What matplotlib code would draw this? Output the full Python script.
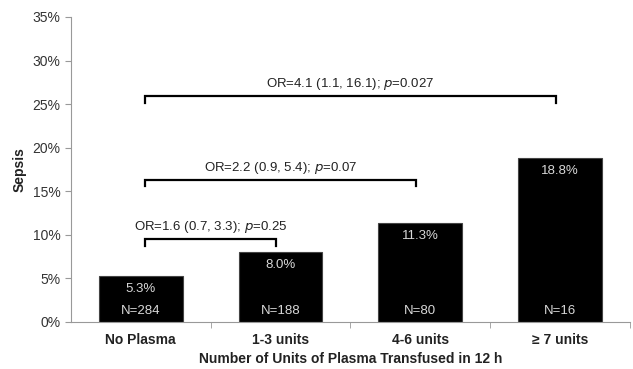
import numpy as np
import matplotlib.pyplot as plt
from matplotlib.ticker import FuncFormatter, FixedLocator

plt.rcParams['font.family'] = ['Liberation Sans', 'DejaVu Sans']

categories = ["No Plasma", "1-3 units", "4-6 units", "\u2265 7 units"]
sepsis_pct = [5.3, 8.0, 11.3, 18.8]
n_labels = ["N=284", "N=188", "N=80", "N=16"]

# comparisons: (from bar, to bar, bracket height %, label)
comparisons = [
    (0, 1, 9.5, "OR=1.6 (0.7, 3.3); $p$=0.25"),
    (0, 2, 16.3, "OR=2.2 (0.9, 5.4); $p$=0.07"),
    (0, 3, 25.9, "OR=4.1 (1.1, 16.1); $p$=0.027"),
]

fig = plt.figure(figsize=(6.33, 3.69), dpi=100)
ax = fig.add_axes([0.112, 0.128, 0.883, 0.826])

x = np.arange(len(categories))
ax.bar(x, sepsis_pct, width=0.6, color='black', edgecolor='#444444', linewidth=0.8)

for xi, v, n in zip(x, sepsis_pct, n_labels):
    ax.text(xi, v - 1.5, f"{v:.1f}%", ha='center', va='center', color='#d8d8d8', fontsize=9.5)
    ax.text(xi, 1.25, n, ha='center', va='center', color='#d8d8d8', fontsize=9.5)

for a, b, h, lab in comparisons:
    xa, xb = a + 0.03, b - 0.03
    ax.plot([xa, xa, xb, xb], [h - 0.75, h, h, h - 0.75], color='black', lw=1.6,
            solid_joinstyle='miter')
    ax.text((xa + xb) / 2, h + 0.45, lab, ha='center', va='bottom', fontsize=9.5, color='#222222')

ax.set_ylim(0, 35)
ax.set_xlim(-0.5, 3.5)
ax.set_yticks(np.arange(0, 36, 5))
ax.yaxis.set_major_formatter(FuncFormatter(lambda v, p: f"{v:.0f}%"))
ax.set_xticks(x)
ax.set_xticklabels(categories, fontweight='bold', fontsize=10, color='#222222')
ax.xaxis.set_minor_locator(FixedLocator([0.5, 1.5, 2.5, 3.5]))
ax.tick_params(axis='x', which='major', length=0, pad=8)
ax.tick_params(axis='x', which='minor', length=4, color='#999999', direction='out')
ax.tick_params(axis='y', length=4, color='#999999', labelsize=10, labelcolor='#333333')

for s in ['top', 'right']:
    ax.spines[s].set_visible(False)
for s in ['left', 'bottom']:
    ax.spines[s].set_color('#999999')

ax.set_ylabel("Sepsis", fontweight='bold', fontsize=10, color='#222222', labelpad=4)
ax.set_xlabel("Number of Units of Plasma Transfused in 12 h", fontweight='bold', fontsize=10,
              color='#222222', labelpad=4)

fig.savefig("out.png", dpi=100)
